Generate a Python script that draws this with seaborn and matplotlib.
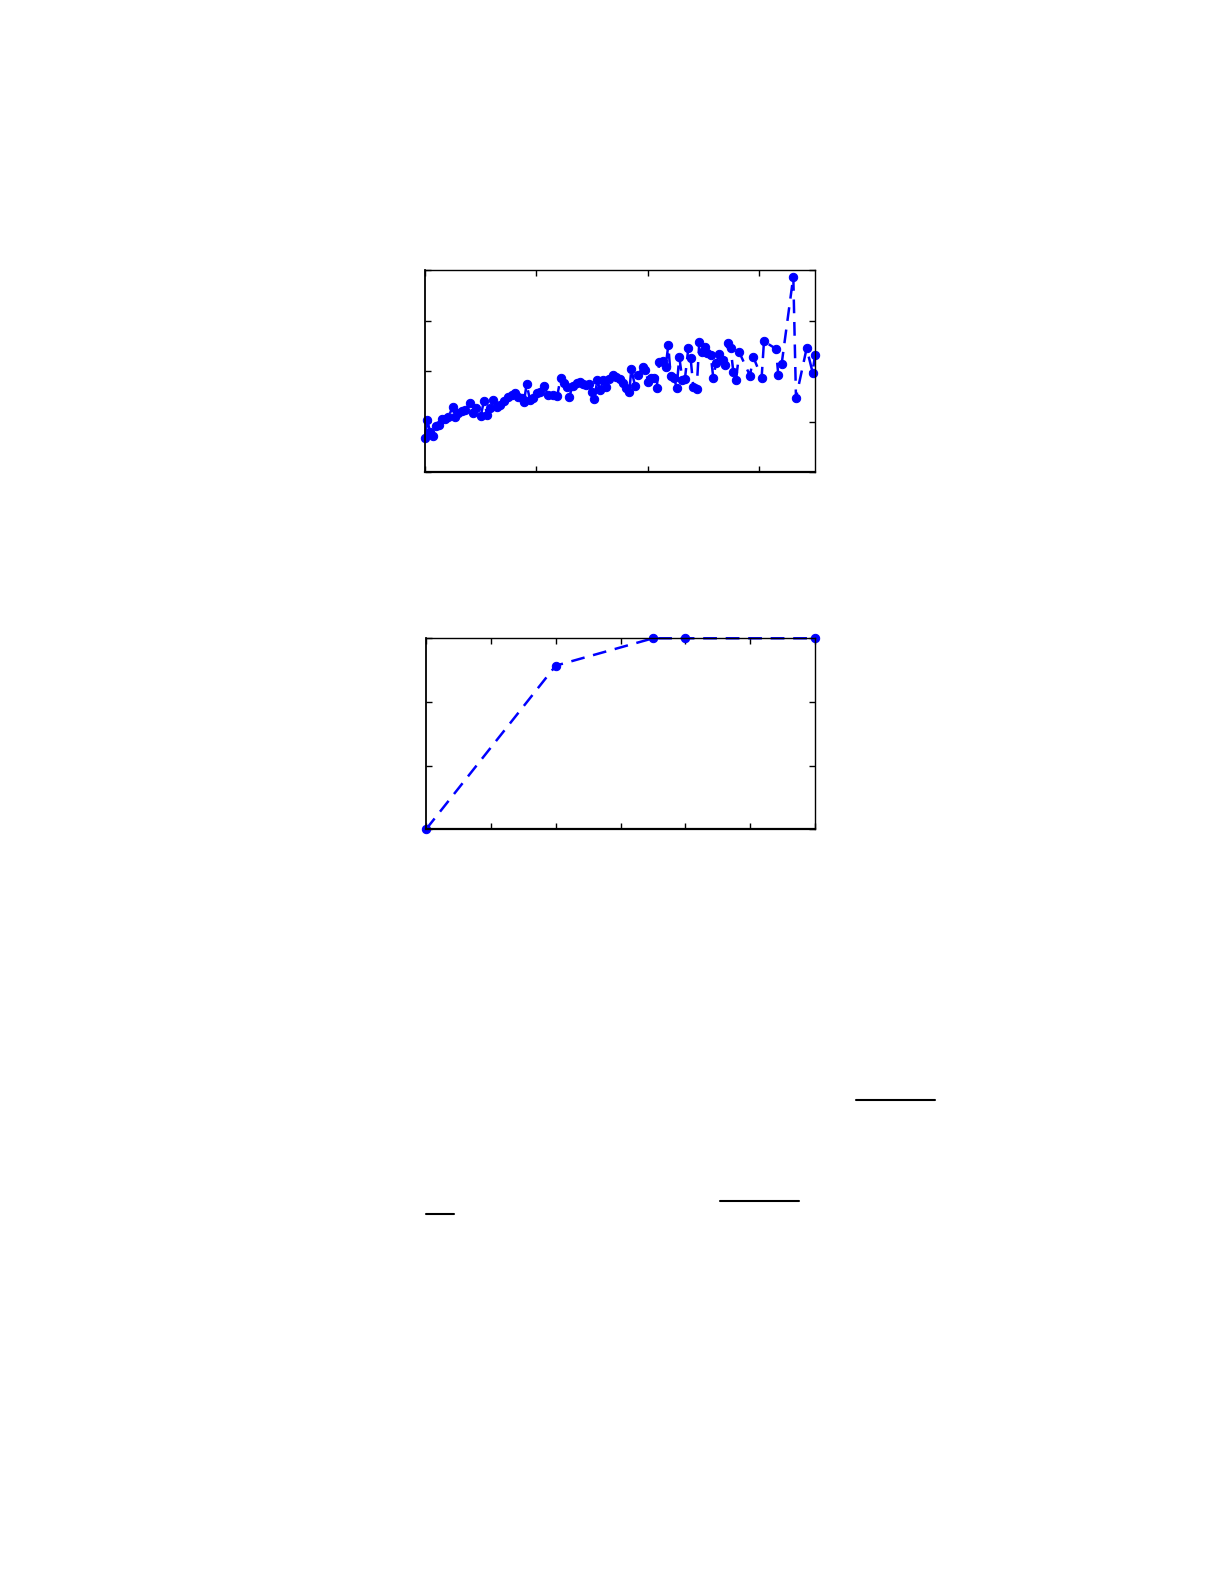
import numpy as np
import pandas as pd
import seaborn as sns
import matplotlib
matplotlib.use("Agg")
import matplotlib.pyplot as plt
from matplotlib.lines import Line2D

# ----- Top panel: values ----- #
top_x = [0, 1.05, 2.24, 3.74, 4.94, 6.43, 7.48, 8.97, 10.47, 12.41, 13.46, 14.96, 16.45, 17.95,
         20.19, 21.39, 22.88, 24.98, 26.47, 27.97, 29.17, 30.66, 32.46, 33.65, 35.45, 37.39, 38.89,
         40.38, 41.88, 43.37, 44.42, 45.62, 47.11, 48.61, 50.10, 51.60, 53.39, 55.34, 57.28, 59.38,
         60.87, 62.37, 63.57, 64.76, 66.26, 68.05, 69.55, 70.74, 72.24, 73.74, 74.78, 75.98, 77.33,
         78.52, 80.02, 81.21, 82.71, 84.51, 85.70, 87.50, 88.69, 90.19, 91.68, 92.58, 94.23, 95.72,
         97.67, 98.86, 100.21, 101.26, 102.75, 103.95, 105.15, 106.64, 107.99, 109.18, 110.23,
         111.73, 112.92, 114.12, 115.47, 116.66, 118.16, 119.21, 120.40, 121.90, 123.09, 124.14,
         125.64, 126.68, 128.18, 129.37, 130.57, 132.07, 133.56, 134.61, 135.95, 137.15, 138.35,
         139.54, 141.04, 145.83, 147.32, 151.06, 152.11, 157.49, 158.54, 160.04, 165.27, 166.47,
         171.25, 173.95, 175.0]
top_y = [0.68, 1.03, 0.80, 0.71, 0.92, 0.94, 1.06, 1.06, 1.08, 1.29, 1.08, 1.16, 1.21, 1.23,
         1.36, 1.16, 1.27, 1.10, 1.41, 1.13, 1.27, 1.43, 1.29, 1.33, 1.41, 1.49, 1.52,
         1.56, 1.49, 1.46, 1.39, 1.74, 1.43, 1.47, 1.56, 1.59, 1.70, 1.52, 1.52, 1.51,
         1.87, 1.76, 1.69, 1.49, 1.71, 1.76, 1.79, 1.74, 1.72, 1.74, 1.59, 1.45, 1.82,
         1.62, 1.82, 1.69, 1.85, 1.93, 1.89, 1.84, 1.76, 1.67, 1.58, 2.04, 1.71, 1.92,
         2.09, 2.02, 1.79, 1.87, 1.87, 1.66, 2.17, 2.20, 2.09, 2.51, 1.91,
         1.87, 1.67, 2.28, 1.83, 1.85, 2.45, 2.25, 1.69, 1.64, 2.57, 2.38,
         2.47, 2.35, 2.32, 1.87, 2.15, 2.33, 2.22, 2.12, 2.55, 2.45, 1.99,
         1.82, 2.37, 1.91, 2.28, 1.87, 2.59, 2.44, 1.92, 2.14, 3.87, 1.47,
         2.45, 1.97, 2.32]
top_xticks = [0, 50, 100, 150]
top_yticks = [0, 1, 2, 3, 4]

# ----- Bottom panel ----- #
bot_x = [0, 2, 3.5, 4, 6]
bot_y = [0.70, 0.957, 1.0, 1.0, 1.0]
bot_xticks = [0, 1, 2, 3, 4, 5, 6]
bot_yticks = [0.7, 0.8, 0.9, 1.0]

sns.set_style("ticks")
plt.rcParams['font.family'] = ['DejaVu Sans']

fig = plt.figure(figsize=(12.25, 15.85), dpi=100)
ax1 = fig.add_axes([0.3469, 0.7022, 0.3184, 0.1274])
ax2 = fig.add_axes([0.3478, 0.4768, 0.3176, 0.1205])

line_kw = dict(color="#0000ff", marker="o", markersize=6, markeredgecolor="#0000ff",
               markerfacecolor="#0000ff", linewidth=1.8, estimator=None, sort=False)

df_top = pd.DataFrame({"x": top_x, "y": top_y})
sns.lineplot(data=df_top, x="x", y="y", ax=ax1, **line_kw)
df_bot = pd.DataFrame({"x": bot_x, "y": bot_y})
sns.lineplot(data=df_bot, x="x", y="y", ax=ax2, **line_kw)

for ax, xt, yt, xl, yl in [(ax1, top_xticks, top_yticks, (0, 175), (0, 4)),
                            (ax2, bot_xticks, bot_yticks, (0, 6), (0.7, 1.0))]:
    for ln in ax.lines:
        ln.set_linestyle((0, (5.5, 3.5)))
        ln.set_clip_on(False)
    ax.set_xlim(*xl)
    ax.set_ylim(*yl)
    ax.set_xticks(xt)
    ax.set_yticks(yt)
    ax.set_xticklabels([])
    ax.set_yticklabels([])
    ax.set_xlabel("")
    ax.set_ylabel("")
    ax.tick_params(direction="in", length=4, width=1, top=True, right=True, color="black")
    for sp in ax.spines.values():
        sp.set_visible(True)
        sp.set_color("black")
        sp.set_linewidth(1.0)
    ax.spines["bottom"].set_linewidth(1.6)
    ax.spines["left"].set_linewidth(1.3)

# fraction bars left over from the page's equations
bars = [((0.6988, 0.7630), 0.3060), ((0.5878, 0.6522), 0.2425), ((0.3478, 0.3706), 0.2343)]
for (x0, x1), yy in bars:
    fig.add_artist(Line2D([x0, x1], [yy, yy], color="black", linewidth=1.5,
                          transform=fig.transFigure))

fig.savefig("out.png", dpi=100, facecolor="white")
